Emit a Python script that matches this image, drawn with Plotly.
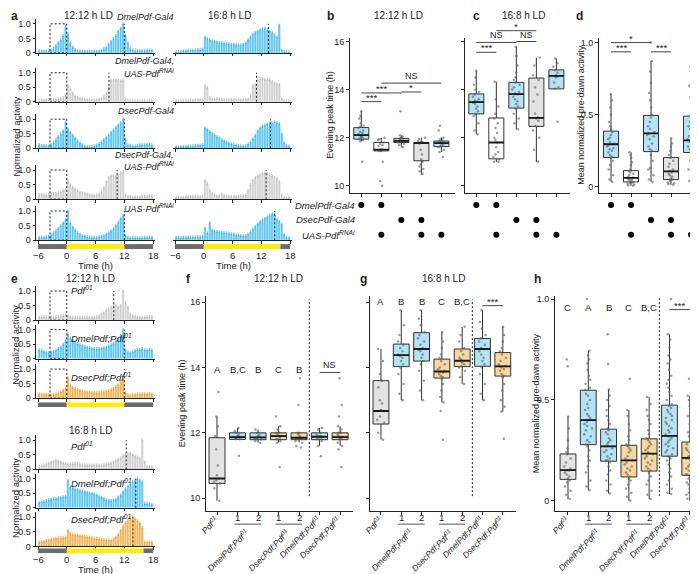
import plotly.graph_objects as go

W, H = 698, 574
FONT = "Liberation Sans, Arial, Helvetica, sans-serif"
INK = "#222222"


def fx(p):
    return p / W


def fy(p):
    return 1 - p / H


# ====================== DATA ======================
# 30-min bins from -6 h to 18 h (bin centres)
time_bins = [-5.75 + 0.5 * i for i in range(48)]
hour_ticks = [-6, 0, 6, 12, 18]
hour_labels = ["\u22126", "0", "6", "12", "18"]

# ---- panel a, 12:12 h LD ----
a12_dmel_gal4 = [0.08, 0.07, 0.07, 0.07, 0.08, 0.10, 0.15, 0.25, 0.35, 0.45, 0.60, 0.90,
                 0.65, 0.35, 0.20, 0.12, 0.08, 0.07, 0.06, 0.06, 0.06, 0.06, 0.06, 0.06,
                 0.06, 0.07, 0.10, 0.15, 0.20, 0.30, 0.40, 0.50, 0.60, 0.75, 0.85, 1.00,
                 0.60, 0.35, 0.15, 0.10, 0.08, 0.08, 0.08, 0.08, 0.08, 0.10, 0.10, 0.10]
a12_dmel_rnai = [0.05, 0.06, 0.06, 0.07, 0.08, 0.08, 0.09, 0.10, 0.10, 0.12, 0.15, 0.20,
                 0.55, 0.45, 0.30, 0.20, 0.15, 0.12, 0.10, 0.08, 0.07, 0.06, 0.06, 0.06,
                 0.08, 0.10, 0.12, 0.18, 0.30, 0.50, 0.75, 0.75, 0.75, 0.74, 0.73, 0.75,
                 0.10, 0.05, 0.04, 0.04, 0.04, 0.04, 0.04, 0.04, 0.04, 0.04, 0.04, 0.04]
a12_dsec_gal4 = [0.12, 0.10, 0.10, 0.09, 0.08, 0.12, 0.20, 0.30, 0.40, 0.50, 0.60, 0.90,
                 0.65, 0.55, 0.45, 0.35, 0.25, 0.18, 0.12, 0.08, 0.06, 0.05, 0.06, 0.08,
                 0.12, 0.16, 0.22, 0.30, 0.38, 0.46, 0.55, 0.63, 0.72, 0.80, 0.88, 1.00,
                 0.30, 0.12, 0.10, 0.08, 0.08, 0.10, 0.12, 0.12, 0.12, 0.14, 0.14, 0.12]
a12_dsec_rnai = [0.15, 0.16, 0.15, 0.14, 0.15, 0.16, 0.18, 0.20, 0.22, 0.25, 0.30, 0.35,
                 0.63, 0.50, 0.42, 0.35, 0.30, 0.25, 0.22, 0.20, 0.18, 0.15, 0.14, 0.14,
                 0.15, 0.18, 0.25, 0.40, 0.60, 0.75, 0.80, 0.80, 0.80, 0.82, 0.90, 0.95,
                 0.15, 0.10, 0.10, 0.08, 0.08, 0.08, 0.08, 0.10, 0.10, 0.10, 0.12, 0.12]
a12_uas_rnai = [0.10, 0.10, 0.10, 0.12, 0.14, 0.18, 0.25, 0.32, 0.40, 0.50, 0.60, 0.70,
                1.00, 0.60, 0.45, 0.35, 0.25, 0.20, 0.16, 0.14, 0.12, 0.10, 0.10, 0.10,
                0.10, 0.12, 0.14, 0.16, 0.20, 0.25, 0.32, 0.40, 0.50, 0.62, 0.75, 0.85,
                0.15, 0.10, 0.08, 0.08, 0.08, 0.08, 0.08, 0.08, 0.10, 0.10, 0.10, 0.10]
# ---- panel a, 16:8 h LD ----
a16_dmel_gal4 = [0.04, 0.05, 0.06, 0.07, 0.08, 0.09, 0.10, 0.10, 0.11, 0.12, 0.12, 0.13,
                 0.55, 0.50, 0.45, 0.42, 0.40, 0.38, 0.36, 0.35, 0.34, 0.33, 0.32, 0.30,
                 0.30, 0.29, 0.28, 0.28, 0.30, 0.35, 0.45, 0.55, 0.65, 0.70, 0.75, 0.80,
                 0.82, 0.85, 0.80, 0.75, 0.70, 0.62, 0.55, 0.95, 0.10, 0.05, 0.04, 0.04]
a16_dmel_rnai = [0.03, 0.03, 0.04, 0.04, 0.05, 0.05, 0.06, 0.06, 0.07, 0.07, 0.08, 0.08,
                 0.55, 0.50, 0.15, 0.10, 0.10, 0.12, 0.10, 0.08, 0.08, 0.08, 0.08, 0.08,
                 0.08, 0.07, 0.07, 0.07, 0.08, 0.08, 0.10, 0.20, 0.55, 0.60, 0.75, 0.80,
                 0.80, 0.78, 0.78, 0.75, 0.70, 0.65, 0.62, 0.60, 0.10, 0.05, 0.04, 0.04]
a16_dsec_gal4 = [0.05, 0.05, 0.06, 0.06, 0.07, 0.08, 0.08, 0.09, 0.10, 0.10, 0.11, 0.12,
                 0.70, 0.65, 0.58, 0.52, 0.46, 0.40, 0.35, 0.30, 0.26, 0.22, 0.18, 0.15,
                 0.13, 0.11, 0.10, 0.09, 0.08, 0.10, 0.15, 0.22, 0.32, 0.45, 0.60, 0.70,
                 0.76, 0.80, 0.84, 0.86, 0.88, 0.90, 0.88, 0.84, 0.50, 0.20, 0.10, 0.08]
a16_dsec_rnai = [0.05, 0.05, 0.06, 0.07, 0.08, 0.08, 0.09, 0.10, 0.10, 0.10, 0.10, 0.12,
                 0.65, 0.55, 0.30, 0.20, 0.15, 0.12, 0.12, 0.18, 0.12, 0.10, 0.10, 0.10,
                 0.10, 0.10, 0.10, 0.12, 0.12, 0.15, 0.30, 0.50, 0.65, 0.75, 0.80, 0.85,
                 0.88, 0.90, 0.88, 0.85, 0.80, 0.75, 0.70, 0.60, 0.15, 0.06, 0.05, 0.05]
a16_uas_rnai = [0.10, 0.10, 0.09, 0.10, 0.10, 0.10, 0.10, 0.11, 0.11, 0.12, 0.12, 0.14,
                0.42, 0.25, 0.60, 0.35, 0.32, 0.30, 0.28, 0.27, 0.26, 0.25, 0.24, 0.22,
                0.20, 0.18, 0.17, 0.16, 0.15, 0.16, 0.20, 0.28, 0.38, 0.48, 0.56, 0.64,
                0.70, 0.75, 0.80, 0.85, 0.90, 0.88, 0.72, 0.65, 0.55, 0.20, 0.10, 0.08]
a12_peaks = [12.0, 8.8, 12.0, 10.5, 12.0]
a16_peaks = [13.5, 11.0, 13.9, 13.0, 14.8]
a_label_lines = [["<i>DmelPdf-Gal4</i>"],
                 ["<i>DmelPdf-Gal4,</i>", "<i>UAS-Pdf<sup>RNAi</sup></i>"],
                 ["<i>DsecPdf-Gal4</i>"],
                 ["<i>DsecPdf-Gal4,</i>", "<i>UAS-Pdf<sup>RNAi</sup></i>"],
                 ["<i>UAS-Pdf<sup>RNAi</sup></i>"]]
a_kinds = ["blue", "gray", "blue", "gray", "blue"]

# ---- panel e ----
e12_pdf01 = [0.10, 0.10, 0.12, 0.12, 0.10, 0.10, 0.10, 0.12, 0.12, 0.14, 0.15, 0.18,
             0.15, 0.12, 0.10, 0.10, 0.10, 0.10, 0.10, 0.10, 0.10, 0.10, 0.10, 0.10,
             0.12, 0.15, 0.20, 0.25, 0.35, 0.40, 0.45, 0.50, 0.50, 0.45, 0.50, 1.00,
             0.60, 0.45, 0.20, 0.15, 0.12, 0.10, 0.10, 0.10, 0.10, 0.12, 0.12, 0.12]
e12_dmel = [0.30, 0.28, 0.25, 0.22, 0.20, 0.22, 0.25, 0.30, 0.35, 0.40, 0.50, 0.60,
            0.85, 0.70, 0.62, 0.56, 0.52, 0.48, 0.45, 0.42, 0.40, 0.38, 0.36, 0.35,
            0.34, 0.35, 0.36, 0.38, 0.40, 0.44, 0.48, 0.53, 0.60, 0.68, 0.80, 1.00,
            0.30, 0.22, 0.20, 0.25, 0.28, 0.30, 0.32, 0.35, 0.30, 0.30, 0.32, 0.30]
e12_dsec = [0.15, 0.14, 0.13, 0.13, 0.12, 0.12, 0.13, 0.15, 0.18, 0.22, 0.28, 0.35,
            0.70, 0.45, 0.38, 0.33, 0.30, 0.27, 0.25, 0.24, 0.22, 0.21, 0.20, 0.20,
            0.20, 0.20, 0.21, 0.22, 0.24, 0.26, 0.30, 0.34, 0.40, 0.46, 0.55, 0.65,
            0.20, 0.12, 0.10, 0.12, 0.14, 0.15, 0.15, 0.16, 0.15, 0.15, 0.16, 0.15]
e16_pdf01 = [0.10, 0.12, 0.15, 0.18, 0.22, 0.25, 0.28, 0.30, 0.28, 0.25, 0.22, 0.20,
             0.18, 0.18, 0.20, 0.20, 0.18, 0.18, 0.16, 0.16, 0.15, 0.15, 0.15, 0.15,
             0.15, 0.15, 0.15, 0.16, 0.18, 0.20, 0.22, 0.25, 0.30, 0.35, 0.40, 0.48,
             0.52, 0.55, 0.55, 0.50, 0.45, 0.42, 0.38, 1.00, 0.25, 0.10, 0.10, 0.10]
e16_dmel = [0.18, 0.20, 0.22, 0.25, 0.28, 0.30, 0.32, 0.33, 0.35, 0.36, 0.38, 0.40,
            0.95, 0.72, 0.68, 0.65, 0.62, 0.60, 0.58, 0.56, 0.54, 0.52, 0.50, 0.47,
            0.44, 0.40, 0.36, 0.32, 0.28, 0.26, 0.25, 0.27, 0.30, 0.36, 0.44, 0.55,
            0.65, 0.75, 0.82, 0.90, 0.95, 1.00, 0.95, 0.90, 0.15, 0.15, 0.15, 0.12]
e16_dsec = [0.15, 0.16, 0.18, 0.20, 0.22, 0.24, 0.26, 0.28, 0.30, 0.30, 0.30, 0.32,
            0.55, 0.45, 0.42, 0.40, 0.38, 0.37, 0.36, 0.35, 0.33, 0.32, 0.30, 0.28,
            0.27, 0.26, 0.25, 0.24, 0.22, 0.22, 0.22, 0.26, 0.32, 0.42, 0.55, 0.70,
            0.82, 0.90, 0.98, 1.00, 0.95, 0.88, 0.80, 0.65, 0.15, 0.15, 0.15, 0.15]
e12_peaks = [9.8, 12.0, 12.0]
e16_peaks = [12.4, 14.4, 13.8]
e_labels = ["<i>Pdf<sup>01</sup></i>", "<i>DmelPdf;Pdf<sup>01</sup></i>", "<i>DsecPdf;Pdf<sup>01</sup></i>"]
e_kinds = ["gray", "blue", "orange"]

predawn_window = [-3.5, 0]
ld12_start = [-6, 0, 12]
ld12_len = [6, 12, 6]
ld16_start = [-6, 0, 16]
ld16_len = [6, 16, 2]
ld_phase = ["dark", "light", "dark"]

# ---- panels b, c, d (genotypes 1-5) ----
bcd_kinds = ["blue", "white", "blue", "gray", "blue"]
dot_dmel_gal4 = [1, 1, 0, 0, 0]
dot_dsec_gal4 = [0, 0, 1, 1, 0]
dot_uas_rnai = [0, 1, 0, 1, 1]
dot_labels = ["<i>DmelPdf-Gal4</i>", "<i>DsecPdf-Gal4</i>", "<i>UAS-Pdf<sup>RNAi</sup></i>"]

b_q1 = [11.94, 11.45, 11.80, 11.04, 11.63]
b_median = [12.11, 11.50, 11.87, 11.78, 11.77]
b_q3 = [12.42, 11.80, 11.97, 11.80, 11.86]
b_low = [11.85, 11.45, 11.60, 10.46, 11.40]
b_high = [13.10, 12.00, 12.10, 12.00, 12.00]
b_points = [
    [13.1, 12.9, 12.8, 12.6, 12.5, 12.45, 12.4, 12.3, 12.25, 12.2, 12.15, 12.1, 12.1, 12.05, 12.0, 12.0, 11.95, 11.9, 11.85, 11.0],
    [12.0, 11.95, 11.9, 11.8, 11.75, 11.7, 11.65, 11.5, 11.5, 11.5, 11.5, 11.45, 11.45, 11.0, 10.2, 10.0],
    [13.1, 12.1, 12.05, 12.0, 12.0, 11.95, 11.9, 11.9, 11.85, 11.85, 11.8, 11.8, 11.75, 11.7, 11.6],
    [12.0, 11.95, 11.85, 11.8, 11.8, 11.8, 11.75, 11.5, 11.3, 11.1, 11.0, 10.9, 10.8, 10.7, 10.6, 10.5],
    [12.5, 12.3, 12.0, 11.95, 11.9, 11.85, 11.8, 11.8, 11.75, 11.7, 11.65, 11.6, 11.5, 11.4, 11.2],
]
b_sig = [(1, 2, 13.50, "***"), (1, 3, 13.86, "***"), (3, 4, 13.90, "*"), (2, 5, 14.27, "NS")]

c_q1 = [12.99, 11.12, 13.23, 12.47, 14.03]
c_median = [13.48, 11.80, 13.81, 12.82, 14.57]
c_q3 = [13.82, 12.82, 14.30, 14.48, 14.82]
c_low = [12.14, 10.99, 12.35, 10.99, 14.03]
c_high = [14.78, 14.33, 15.78, 15.33, 15.29]
c_points = [
    [14.78, 14.5, 14.2, 14.0, 13.9, 13.8, 13.7, 13.6, 13.55, 13.5, 13.45, 13.4, 13.3, 13.2, 13.1, 13.0, 12.9, 12.6, 12.3, 12.14],
    [14.33, 13.6, 13.3, 13.0, 12.8, 12.6, 12.4, 12.2, 12.0, 11.9, 11.8, 11.6, 11.4, 11.3, 11.2, 11.1, 11.0, 11.0],
    [15.78, 15.4, 15.0, 14.7, 14.5, 14.4, 14.3, 14.2, 14.1, 14.0, 13.9, 13.85, 13.8, 13.7, 13.6, 13.5, 13.4, 13.3, 13.2, 13.0, 12.8, 12.6, 12.35],
    [15.33, 15.0, 14.6, 14.4, 14.1, 13.8, 13.5, 13.0, 12.85, 12.8, 12.7, 12.5, 12.3, 12.0, 11.5, 11.0],
    [15.29, 15.1, 14.95, 14.8, 14.7, 14.6, 14.55, 14.5, 14.3, 14.1, 14.05, 12.66],
]
c_sig = [(1, 2, 15.55, "***"), (1, 3, 15.96, "NS"), (3, 4, 16.00, "NS"), (2, 4, 16.45, "*")]

d_q1 = [0.203, 0.034, 0.244, 0.050, 0.238]
d_median = [0.295, 0.062, 0.370, 0.107, 0.322]
d_q3 = [0.386, 0.112, 0.495, 0.203, 0.490]
d_low = [0.034, 0.007, 0.034, 0.014, 0.016]
d_high = [0.644, 0.240, 0.872, 0.336, 0.833]
d_points = [
    [0.644, 0.6, 0.55, 0.5, 0.45, 0.42, 0.4, 0.38, 0.36, 0.34, 0.33, 0.31, 0.3, 0.29, 0.28, 0.27, 0.26, 0.25, 0.24, 0.22, 0.21, 0.2, 0.18, 0.15, 0.12, 0.08, 0.05, 0.034],
    [0.24, 0.22, 0.2, 0.17, 0.15, 0.12, 0.11, 0.1, 0.09, 0.08, 0.07, 0.065, 0.06, 0.055, 0.05, 0.045, 0.04, 0.035, 0.03, 0.025, 0.02, 0.015, 0.01, 0.007],
    [1.0, 0.872, 0.8, 0.72, 0.65, 0.6, 0.55, 0.5, 0.48, 0.45, 0.42, 0.4, 0.38, 0.37, 0.36, 0.35, 0.33, 0.3, 0.28, 0.26, 0.25, 0.22, 0.18, 0.13, 0.12, 0.08, 0.05, 0.034],
    [0.336, 0.3, 0.28, 0.25, 0.22, 0.2, 0.18, 0.16, 0.14, 0.12, 0.11, 0.1, 0.09, 0.08, 0.07, 0.06, 0.05, 0.04, 0.03, 0.025, 0.02, 0.014],
    [0.833, 0.8, 0.7, 0.62, 0.56, 0.5, 0.48, 0.45, 0.42, 0.4, 0.37, 0.35, 0.33, 0.32, 0.31, 0.3, 0.28, 0.26, 0.25, 0.24, 0.22, 0.18, 0.12, 0.08, 0.04, 0.016],
]
d_sig = [(1, 2, 0.936, "***"), (1, 3, 1.0, "*"), (3, 4, 0.936, "***")]

# ---- panels f, g, h (genotypes 1-7) ----
fgh_kinds = ["gray", "blue", "blue", "orange", "orange", "blue", "orange"]
fgh_replicate = ["", "1", "2", "1", "2", "", ""]
fgh_single_labels = [(1, "<i>Pdf<sup>01</sup></i>"), (6, "<i>DmelPdf;Pdf<sup>01</sup></i>"),
                     (7, "<i>DsecPdf;Pdf<sup>01</sup></i>")]
fgh_pair_labels = [(2, 3, "<i>DmelPdf;Pdf<sup>01</sup></i>"), (4, 5, "<i>DsecPdf;Pdf<sup>01</sup></i>")]
fgh_separator = 5.5

f_q1 = [10.45, 11.80, 11.79, 11.79, 11.79, 11.79, 11.79]
f_median = [10.60, 11.87, 11.86, 11.90, 11.85, 11.88, 11.87]
f_q3 = [11.85, 12.00, 12.00, 12.00, 12.00, 12.00, 12.00]
f_low = [9.92, 11.80, 11.70, 11.70, 11.70, 11.60, 11.60]
f_high = [12.50, 12.15, 12.10, 12.20, 12.00, 12.15, 12.20]
f_points = [
    [13.25, 12.5, 12.2, 11.9, 11.5, 11.0, 10.7, 10.6, 10.55, 10.5, 10.45, 10.3, 9.92],
    [12.15, 12.05, 12.0, 11.95, 11.9, 11.88, 11.85, 11.82, 11.8, 11.8, 11.3],
    [12.1, 12.0, 11.95, 11.9, 11.88, 11.85, 11.82, 11.8, 11.75, 11.7],
    [12.5, 12.2, 12.1, 12.0, 12.0, 11.95, 11.9, 11.9, 11.85, 11.8, 11.8, 11.75, 11.7, 10.95],
    [13.67, 12.85, 12.0, 12.0, 11.95, 11.9, 11.85, 11.85, 11.8, 11.75, 11.7, 11.6, 11.55],
    [12.15, 12.1, 12.0, 11.95, 11.9, 11.9, 11.88, 11.85, 11.8, 11.8, 11.75, 11.6, 11.28],
    [13.67, 12.85, 12.5, 12.2, 12.1, 12.0, 12.0, 11.95, 11.9, 11.88, 11.85, 11.8, 11.8, 11.7, 11.6, 11.5, 10.95],
]
f_letters = ["A", "B,C", "B", "C", "B"]
f_letter_y = 13.95
f_sig = [(6, 7, 13.85, "NS")]

g_q1 = [12.27, 14.03, 14.20, 13.68, 14.03, 14.04, 13.74]
g_median = [12.67, 14.38, 14.57, 13.88, 14.21, 14.57, 14.04]
g_q3 = [13.60, 14.72, 15.07, 14.26, 14.57, 14.89, 14.46]
g_low = [11.79, 13.00, 13.00, 12.93, 13.50, 13.00, 12.65]
g_high = [14.57, 15.76, 15.76, 15.09, 15.25, 15.76, 15.25]
g_points = [
    [14.57, 14.2, 13.8, 13.6, 13.4, 13.0, 12.9, 12.7, 12.67, 12.5, 12.4, 12.3, 12.0, 11.79],
    [15.76, 15.3, 15.0, 14.8, 14.7, 14.6, 14.5, 14.4, 14.35, 14.3, 14.2, 14.1, 14.0, 13.8, 13.5, 13.2, 13.0],
    [15.76, 15.5, 15.3, 15.1, 15.0, 14.9, 14.8, 14.7, 14.6, 14.55, 14.5, 14.4, 14.3, 14.2, 14.1, 13.9, 13.6, 13.3, 13.0],
    [15.09, 14.8, 14.6, 14.4, 14.3, 14.2, 14.1, 14.0, 13.95, 13.9, 13.88, 13.85, 13.8, 13.75, 13.7, 13.65, 13.5, 13.3, 13.1, 12.93, 12.67, 11.79],
    [15.25, 15.0, 14.8, 14.6, 14.5, 14.4, 14.3, 14.25, 14.2, 14.15, 14.1, 14.05, 14.0, 13.9, 13.7, 13.5],
    [15.76, 15.4, 15.2, 15.0, 14.9, 14.8, 14.7, 14.6, 14.57, 14.5, 14.4, 14.3, 14.2, 14.1, 14.0, 13.8, 13.5, 13.2, 13.0],
    [15.25, 15.0, 14.8, 14.6, 14.5, 14.4, 14.3, 14.2, 14.1, 14.05, 14.0, 13.95, 13.9, 13.8, 13.75, 13.7, 13.5, 13.3, 13.0, 12.8, 12.65, 11.82],
]
g_letters = ["A", "B", "B", "C", "B,C"]
g_letter_y = 16.03
g_sig = [(6, 7, 15.90, "***")]

h_q1 = [0.106, 0.278, 0.196, 0.118, 0.147, 0.221, 0.126]
h_median = [0.152, 0.400, 0.270, 0.200, 0.234, 0.322, 0.213]
h_q3 = [0.232, 0.548, 0.355, 0.275, 0.307, 0.474, 0.291]
h_low = [0.008, 0.052, 0.036, 0.0, 0.008, 0.033, 0.0]
h_high = [0.417, 0.744, 0.552, 0.450, 0.515, 0.826, 0.520]
h_points = [
    [0.70, 0.667, 0.417, 0.36, 0.3, 0.26, 0.24, 0.23, 0.21, 0.19, 0.17, 0.16, 0.15, 0.15, 0.14, 0.13, 0.12, 0.11, 0.1, 0.09, 0.07, 0.05, 0.03, 0.008],
    [1.0, 0.744, 0.72, 0.7, 0.68, 0.65, 0.62, 0.6, 0.58, 0.56, 0.55, 0.53, 0.52, 0.5, 0.48, 0.46, 0.45, 0.43, 0.42, 0.41, 0.40, 0.39, 0.38, 0.37, 0.36, 0.35, 0.33, 0.32, 0.3, 0.29, 0.28, 0.27, 0.25, 0.22, 0.2, 0.17, 0.14, 0.1, 0.07, 0.052],
    [0.826, 0.678, 0.552, 0.52, 0.5, 0.47, 0.45, 0.42, 0.4, 0.38, 0.36, 0.35, 0.34, 0.33, 0.31, 0.3, 0.29, 0.28, 0.27, 0.27, 0.26, 0.25, 0.24, 0.23, 0.22, 0.21, 0.2, 0.2, 0.19, 0.17, 0.15, 0.13, 0.1, 0.08, 0.05, 0.036],
    [0.605, 0.45, 0.42, 0.38, 0.35, 0.32, 0.3, 0.28, 0.27, 0.26, 0.25, 0.24, 0.22, 0.21, 0.2, 0.2, 0.19, 0.18, 0.17, 0.16, 0.15, 0.14, 0.13, 0.12, 0.11, 0.1, 0.08, 0.06, 0.04, 0.02, 0.0],
    [0.515, 0.48, 0.45, 0.42, 0.4, 0.38, 0.35, 0.33, 0.31, 0.3, 0.29, 0.28, 0.27, 0.26, 0.25, 0.24, 0.23, 0.22, 0.21, 0.2, 0.19, 0.18, 0.17, 0.16, 0.15, 0.14, 0.12, 0.1, 0.08, 0.05, 0.03, 0.008],
    [1.0, 0.826, 0.8, 0.76, 0.72, 0.7, 0.68, 0.65, 0.62, 0.6, 0.58, 0.56, 0.54, 0.52, 0.5, 0.48, 0.47, 0.46, 0.45, 0.44, 0.43, 0.42, 0.41, 0.4, 0.39, 0.38, 0.37, 0.36, 0.35, 0.34, 0.33, 0.32, 0.32, 0.31, 0.3, 0.29, 0.28, 0.27, 0.26, 0.25, 0.24, 0.23, 0.22, 0.21, 0.2, 0.18, 0.16, 0.14, 0.12, 0.1, 0.08, 0.06, 0.04, 0.033],
    [0.605, 0.52, 0.5, 0.47, 0.45, 0.42, 0.4, 0.38, 0.36, 0.34, 0.32, 0.3, 0.29, 0.28, 0.27, 0.26, 0.25, 0.24, 0.23, 0.22, 0.22, 0.21, 0.21, 0.2, 0.19, 0.18, 0.17, 0.16, 0.15, 0.14, 0.13, 0.13, 0.12, 0.11, 0.1, 0.09, 0.08, 0.07, 0.06, 0.05, 0.04, 0.03, 0.02, 0.01, 0.0],
]
h_letters = ["C", "A", "B", "C", "B,C"]
h_letter_y = 0.96
h_sig = [(6, 7, 0.948, "***")]

# ====================== STYLE ======================
BAR = {"blue": "#5EC7F2", "gray": "#D2D2D2", "orange": "#F2B457"}
ERR = {"blue": "#2AA6DE", "gray": "#AFAFAF", "orange": "#DC9530"}
BOXFILL = {"blue": "#B5E3F6", "white": "#FFFFFF", "gray": "#E3E3E3", "orange": "#F7D8A3"}
LD_COLOR = {"dark": "#6B6B6B", "light": "#FFEE00"}

traces, shapes, annotations = [], [], []
AXGEOM = {}
layout = dict(width=W, height=H, margin=dict(l=0, r=0, t=0, b=0),
              paper_bgcolor="white", plot_bgcolor="white", showlegend=False,
              font=dict(family=FONT, size=9, color=INK), boxmode="overlay",
              barmode="overlay", hovermode=False)

AXIS = dict(showgrid=False, zeroline=False, showline=True, linecolor=INK, linewidth=1,
            ticks="outside", ticklen=3, tickwidth=1, tickcolor=INK,
            tickfont=dict(size=9, color=INK, family=FONT), fixedrange=True, type="linear")


def add_axes(n, xpx, ypx, xa, ya):
    s = "" if n == 1 else str(n)
    xd = dict(AXIS)
    xd.update(xa)
    xd.update(domain=[fx(xpx[0]), fx(xpx[1])], anchor="y" + s)
    yd = dict(AXIS)
    yd.update(ya)
    yd.update(domain=[fy(ypx[1]), fy(ypx[0])], anchor="x" + s)
    layout["xaxis" + s] = xd
    layout["yaxis" + s] = yd
    AXGEOM["y" + s] = (ypx, yd.get("range"))
    return "x" + s, "y" + s


def y_to_paper(yr, v):
    """Map a value on axis yr to paper coordinates (for marks drawn above the plot area)."""
    (top, bottom), (r0, r1) = AXGEOM[yr]
    px = bottom - (v - r0) / (r1 - r0) * (bottom - top)
    return fy(px)


def text(x, y, t, size=9.5, xanchor="center", yanchor="middle", **kw):
    d = dict(x=x, y=y, xref="paper", yref="paper", text=t, showarrow=False,
             xanchor=xanchor, yanchor=yanchor, font=dict(size=size, color=INK, family=FONT))
    d.update(kw)
    annotations.append(d)


HIST_XR = [-6.42, 18.4]
HIST_YR = [0, 1.17]
ROW_H = 34.5
DOT = "2px,2px"


def hist(n, xpx, y_zero, vals, kind, peak, show_y, predawn):
    xr, yr = add_axes(n, xpx, (y_zero - ROW_H, y_zero),
                      dict(range=HIST_XR, tickvals=hour_ticks, showticklabels=False, ticklen=2.5),
                      dict(range=HIST_YR, tickvals=[0, 0.5, 1], ticktext=["0", "0.5", "1.0"],
                           visible=show_y, ticklen=2.5))
    traces.append(go.Bar(x=time_bins, y=vals, width=0.5, xaxis=xr, yaxis=yr,
                         marker=dict(color=BAR[kind], line=dict(color="rgba(255,255,255,0.8)", width=0.4)),
                         error_y=dict(type="constant", value=0.035, color=ERR[kind], thickness=0.6, width=0.6)))
    shapes.append(dict(type="line", xref=xr, yref=yr, x0=peak, x1=peak, y0=0, y1=1.0,
                       line=dict(color=INK, width=1, dash=DOT)))
    if predawn:
        shapes.append(dict(type="rect", xref=xr, yref=yr, x0=predawn_window[0], x1=predawn_window[1],
                           y0=0, y1=1.0, line=dict(color=INK, width=1, dash=DOT)))


def ld_bar(n, xpx, ypx, starts, lens, label_px):
    xr, yr = add_axes(n, xpx, ypx,
                      dict(range=HIST_XR, visible=False),
                      dict(range=[-0.5, 0.5], visible=False))
    traces.append(go.Bar(x=lens, base=starts, y=[0] * len(lens), orientation="h", width=1,
                         marker=dict(color=[LD_COLOR[p] for p in ld_phase], line=dict(width=0)),
                         xaxis=xr, yaxis=yr))
    if label_px is not None:
        for v, lab in zip(hour_ticks, hour_labels):
            annotations.append(dict(xref=xr, yref="paper", x=v, y=fy(label_px), text=lab,
                                    showarrow=False, xanchor="center", yanchor="middle",
                                    font=dict(size=9.5, color=INK, family=FONT)))


def boxes(xr, yr, q1, med, q3, lo, hi, pts, kinds, width):
    mx, my = [], []
    for i in range(len(q1)):
        pos = i + 1
        traces.append(go.Box(x=[pos], q1=[q1[i]], median=[med[i]], q3=[q3[i]],
                             lowerfence=[lo[i]], upperfence=[hi[i]], width=width,
                             fillcolor=BOXFILL[kinds[i]], line=dict(color="#333333", width=1),
                             whiskerwidth=0, boxpoints=False, xaxis=xr, yaxis=yr))
        mx += [pos - width / 2, pos + width / 2, None]
        my += [med[i], med[i], None]
    # bold median lines (ggplot style)
    traces.append(go.Scatter(x=mx, y=my, mode="lines", line=dict(color="#1a1a1a", width=1.8),
                             xaxis=xr, yaxis=yr))
    for i in range(len(q1)):
        pos = i + 1
        traces.append(go.Box(x=[pos] * len(pts[i]), y=pts[i], width=width, boxpoints="all",
                             jitter=0.55, pointpos=0, fillcolor="rgba(0,0,0,0)",
                             line=dict(color="rgba(0,0,0,0)", width=0),
                             marker=dict(size=2.5, color="rgba(90,90,90,0.6)"),
                             xaxis=xr, yaxis=yr))


def brackets(xr, yr, sig):
    top = AXGEOM[yr][1][1]
    for x0, x1, y, t in sig:
        if y <= top:
            yref, yy = yr, y
        else:
            yref, yy = "paper", y_to_paper(yr, y)
        shapes.append(dict(type="line", xref=xr, yref=yref, x0=x0, x1=x1, y0=yy, y1=yy,
                           line=dict(color="#333333", width=0.9)))
        annotations.append(dict(xref=xr, yref=yref, x=(x0 + x1) / 2, y=yy, text=t, showarrow=False,
                                xanchor="center", yanchor="bottom", yshift=(-3 if "*" in t else 0),
                                font=dict(size=9.5 if "*" in t else 9, color=INK, family=FONT)))


# ====================== PANEL a ======================
a_rows_12 = [a12_dmel_gal4, a12_dmel_rnai, a12_dsec_gal4, a12_dsec_rnai, a12_uas_rnai]
a_rows_16 = [a16_dmel_gal4, a16_dmel_rnai, a16_dsec_gal4, a16_dsec_rnai, a16_uas_rnai]
a_zero_px = [43.5, 93, 140, 191.5, 233]
a_label_px = [[7], [52, 63.5], [102], [146.5, 158], [200]]
for i in range(5):
    hist(1 + i, (28, 147), a_zero_px[i], a_rows_12[i], a_kinds[i], a12_peaks[i], True, True)
    hist(6 + i, (165, 284), a_zero_px[i], a_rows_16[i], a_kinds[i], a16_peaks[i], False, False)
    for line, ypx in zip(a_label_lines[i], a_label_px[i]):
        text(fx(168), fy(ypx), line, size=9, xanchor="right")
ld_bar(11, (28, 147), (237, 242), ld12_start, ld12_len, 248.5)
ld_bar(12, (165, 284), (237, 242), ld16_start, ld16_len, 248.5)
text(fx(87), fy(259), "Time (h)", size=9.5)
text(fx(225), fy(259), "Time (h)", size=9.5)
text(fx(8), fy(128), "Normalized activity", size=9.5, textangle=-90)
text(fx(80), fy(6), "12:12 h LD", size=10)
text(fx(222), fy(6), "16:8 h LD", size=10)
text(fx(1), fy(6), "<b>a</b>", size=12, xanchor="left")

# ====================== PANEL e ======================
e_rows_12 = [e12_pdf01, e12_dmel, e12_dsec]
e_rows_16 = [e16_pdf01, e16_dmel, e16_dsec]
e12_zero_px = [314, 353, 393]
e16_zero_px = [465, 504, 543]
e12_label_px = [283, 332, 372]
e16_label_px = [441, 479, 515]
for i in range(3):
    hist(13 + i, (28, 147), e12_zero_px[i], e_rows_12[i], e_kinds[i], e12_peaks[i], True, True)
    hist(16 + i, (28, 147), e16_zero_px[i], e_rows_16[i], e_kinds[i], e16_peaks[i], True, False)
    text(fx(61), fy(e12_label_px[i]), e_labels[i], xanchor="left")
    text(fx(61), fy(e16_label_px[i]), e_labels[i], xanchor="left")
ld_bar(19, (28, 147), (397, 402), ld12_start, ld12_len, None)
ld_bar(20, (28, 147), (545, 550), ld16_start, ld16_len, 556)
text(fx(87), fy(566), "Time (h)", size=9.5)
text(fx(8), fy(339), "Normalized activity", size=9.5, textangle=-90)
text(fx(8), fy(494), "Normalized activity", size=9.5, textangle=-90)
text(fx(82), fy(272), "12:12 h LD", size=10)
text(fx(82), fy(426), "16:8 h LD", size=10)
text(fx(1), fy(272), "<b>e</b>", size=12, xanchor="left")

# ====================== PANELS b, c, d ======================
BCD_X = dict(tickvals=[1, 2, 3, 4, 5], showticklabels=False)
xb, yb = add_axes(21, (342, 447), (28, 185), dict(BCD_X, range=[0.435, 5.68]),
                  dict(range=[9.71, 16.16], tickvals=[10, 12, 14, 16]))
xc, yc = add_axes(22, (457, 562), (28, 185), dict(BCD_X, range=[0.435, 5.68]),
                  dict(range=[9.71, 16.16], tickvals=[10, 12, 14, 16], showticklabels=False))
xd, yd = add_axes(23, (591, 697), (28, 185), dict(BCD_X, range=[0.4, 5.7]),
                  dict(range=[-0.041, 1.034], tickvals=[0, 0.5, 1], ticktext=["0", "0.5", "1.0"]))
boxes(xb, yb, b_q1, b_median, b_q3, b_low, b_high, b_points, bcd_kinds, 0.75)
boxes(xc, yc, c_q1, c_median, c_q3, c_low, c_high, c_points, bcd_kinds, 0.75)
boxes(xd, yd, d_q1, d_median, d_q3, d_low, d_high, d_points, bcd_kinds, 0.75)
brackets(xb, yb, b_sig)
brackets(xc, yc, c_sig)
brackets(xd, yd, d_sig)

dot_rows = [dot_dmel_gal4, dot_dsec_gal4, dot_uas_rnai]
for n, xpx, xrange_ in [(24, (342, 447), [0.435, 5.68]), (25, (457, 562), [0.435, 5.68]),
                        (26, (591, 697), [0.4, 5.7])]:
    xr, yr = add_axes(n, xpx, (190, 235), dict(range=xrange_, visible=False),
                      dict(range=[2.5, -0.5], visible=False))
    for r, row in enumerate(dot_rows):
        xs = [k + 1 for k, v in enumerate(row) if v]
        traces.append(go.Scatter(x=xs, y=[r] * len(xs), mode="markers", xaxis=xr, yaxis=yr,
                                 marker=dict(size=6, color="black"), cliponaxis=False))
    if n == 24:
        for r, lab in enumerate(dot_labels):
            annotations.append(dict(xref="paper", yref=yr, x=fx(349), y=r, text=lab, showarrow=False,
                                    xanchor="right", yanchor="middle",
                                    font=dict(size=9.5, color=INK, family=FONT)))

text(fx(322), fy(106), "Evening peak time (h)", size=9, textangle=-90)
text(fx(573), fy(106), "Mean normalized pre-dawn activity", size=9, textangle=-90)
text(fx(390), fy(6), "12:12 h LD", size=10)
text(fx(515), fy(6), "16:8 h LD", size=10)
text(fx(317), fy(6), "<b>b</b>", size=12, xanchor="left")
text(fx(463), fy(6), "<b>c</b>", size=12, xanchor="left")
text(fx(566), fy(6), "<b>d</b>", size=12, xanchor="left")

# ====================== PANELS f, g, h ======================
FGH_X = dict(tickvals=[1, 2, 3, 4, 5, 6, 7], showticklabels=False)
xf, yf = add_axes(27, (198, 345), (290, 507), dict(FGH_X, range=[0.463, 7.63]),
                  dict(range=[9.61, 16.18], tickvals=[10, 12, 14, 16]))
xg, yg = add_axes(28, (362, 508), (290, 507), dict(FGH_X, range=[0.46, 7.65]),
                  dict(range=[9.61, 16.18], tickvals=[10, 12, 14, 16], showticklabels=False))
xh, yh = add_axes(29, (547, 697), (290, 507), dict(FGH_X, range=[0.36, 7.75]),
                  dict(range=[-0.05, 1.013], tickvals=[0, 0.5, 1], ticktext=["0", "0.5", "1.0"]))
boxes(xf, yf, f_q1, f_median, f_q3, f_low, f_high, f_points, fgh_kinds, 0.78)
boxes(xg, yg, g_q1, g_median, g_q3, g_low, g_high, g_points, fgh_kinds, 0.78)
boxes(xh, yh, h_q1, h_median, h_q3, h_low, h_high, h_points, fgh_kinds, 0.78)
brackets(xf, yf, f_sig)
brackets(xg, yg, g_sig)
brackets(xh, yh, h_sig)

for xr, yr, letters, ly, y0, y1 in [(xf, yf, f_letters, f_letter_y, 10.06, 16.09),
                                    (xg, yg, g_letters, g_letter_y, 10.06, 16.09),
                                    (xh, yh, h_letters, h_letter_y, 0.023, 1.013)]:
    for k, lt in enumerate(letters):
        annotations.append(dict(xref=xr, yref=yr, x=k + 1, y=ly, text=lt, showarrow=False,
                                xanchor="center", yanchor="middle",
                                font=dict(size=9.5, color=INK, family=FONT)))
    shapes.append(dict(type="line", xref=xr, yref=yr, x0=fgh_separator, x1=fgh_separator,
                       y0=y0, y1=y1, line=dict(color=INK, width=1, dash=DOT)))
    for k, rep in enumerate(fgh_replicate):
        if rep:
            annotations.append(dict(xref=xr, yref="paper", x=k + 1, y=fy(513.5), text=rep,
                                    showarrow=False, xanchor="center", yanchor="middle",
                                    font=dict(size=9.5, color=INK, family=FONT)))
    for pos, lab in fgh_single_labels:
        annotations.append(dict(xref=xr, yref="paper", x=pos, y=fy(508), text=lab, showarrow=False,
                                textangle=-45, xanchor="right", yanchor="top", xshift=6,
                                font=dict(size=8.5, color=INK, family=FONT)))
    for p0, p1, lab in fgh_pair_labels:
        annotations.append(dict(xref=xr, yref="paper", x=(p0 + p1) / 2, y=fy(521), text=lab,
                                showarrow=False, textangle=-45, xanchor="right", yanchor="top",
                                xshift=6, font=dict(size=8.5, color=INK, family=FONT)))
        shapes.append(dict(type="line", xref=xr, yref="paper", x0=p0 - 0.15, x1=p1 + 0.15,
                           y0=fy(520.5), y1=fy(520.5), line=dict(color="#555555", width=1)))

text(fx(174), fy(398), "Evening peak time (h)", size=9, textangle=-90)
text(fx(528), fy(398), "Mean normalized pre-dawn activity", size=9, textangle=-90)
text(fx(270), fy(272), "12:12 h LD", size=10)
text(fx(435), fy(272), "16:8 h LD", size=10)
text(fx(176), fy(272), "<b>f</b>", size=12, xanchor="left")
text(fx(350), fy(272), "<b>g</b>", size=12, xanchor="left")
text(fx(524), fy(272), "<b>h</b>", size=12, xanchor="left")

layout["shapes"] = shapes
layout["annotations"] = annotations
fig = go.Figure(data=traces, layout=layout)
fig.write_html("out.html")
